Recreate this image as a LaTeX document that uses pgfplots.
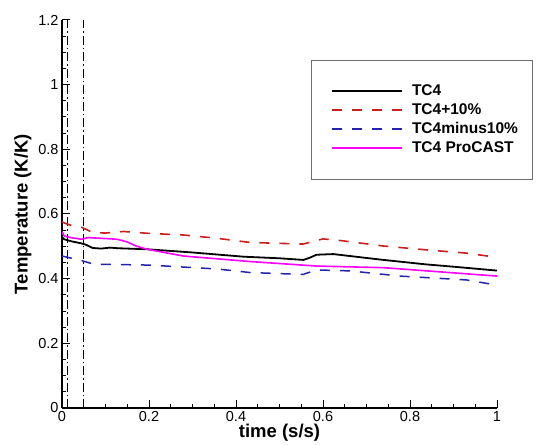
\documentclass[border=0pt]{standalone}
\usepackage{fontspec}
\setmainfont{Liberation Sans}
\usepackage{pgfplots}
\pgfplotsset{compat=1.18}
\definecolor{tcred}{RGB}{205,30,30}
\definecolor{tcblue}{RGB}{35,35,175}
\definecolor{tcmag}{RGB}{255,0,255}
\definecolor{leggray}{RGB}{110,110,110}
\begin{document}
\begin{tikzpicture}[x=1pt,y=1pt]
\path[use as bounding box] (-62,-36) rectangle (475,408);
\begin{axis}[at={(0,0)}, anchor=south west, scale only axis,
  width=435pt, height=388pt,
  xmin=0, xmax=1, ymin=0, ymax=1.2,
  axis x line=bottom, axis y line=left,
  axis line style={-, line width=1.5pt, black},
  xtick={0,0.2,0.4,0.6,0.8,1}, ytick={0,0.2,0.4,0.6,0.8,1,1.2},
  minor x tick num=3, minor y tick num=3,
  tick align=inside, major tick length=8pt, minor tick length=4pt,
  every tick/.style={black, line width=1pt},
  /pgf/number format/assume math mode=true,
  ticklabel style={font=\fontsize{14.5}{16}\selectfont},
  xlabel={\bfseries time (s/s)}, ylabel={\bfseries Temperature (K/K)},
  label style={font=\fontsize{18.5}{20}\selectfont},
  xlabel style={yshift=5pt},
  legend style={at={(249pt,348pt)}, anchor=north west, draw=leggray, fill=white,
     inner xsep=13pt, inner ysep=23pt, row sep=3pt,
     font=\bfseries\fontsize{15.5}{18}\selectfont,
     nodes={text height=11pt, text depth=3pt, inner sep=1pt}},
  legend cell align=left,
  legend image code/.code={\path (0pt,0pt) (85pt,0pt); \draw[#1] (7pt,0pt) -- (77pt,0pt);},
]
\addplot[black, line width=1pt, dash pattern=on 9pt off 3pt on 1.5pt off 3pt, forget plot] coordinates {(0.013,0) (0.013,1.2)};
\addplot[black, line width=1pt, dash pattern=on 9pt off 3pt on 1.5pt off 3pt, forget plot] coordinates {(0.05,0) (0.05,1.2)};
\addplot[black, line width=1.8pt] coordinates {
(0,0.528) (0.005,0.522) (0.02,0.516) (0.045,0.509) (0.055,0.505) (0.07,0.495) (0.09,0.493) (0.11,0.496) (0.13,0.494) (0.195,0.491) (0.3,0.481) (0.417,0.468) (0.5,0.463) (0.555,0.458) (0.57,0.465) (0.585,0.474) (0.624,0.476) (0.7,0.464) (0.739,0.458) (0.838,0.444) (0.9,0.437) (1.0,0.425)};
\addlegendentry{TC4}
\addplot[tcred, line width=1.6pt, dash pattern=on 10pt off 10pt] coordinates {
(0,0.575) (0.02,0.565) (0.045,0.559) (0.07,0.543) (0.1,0.541) (0.141,0.546) (0.2,0.540) (0.28,0.535) (0.356,0.525) (0.432,0.512) (0.554,0.507) (0.600,0.523) (0.646,0.517) (0.739,0.501) (0.838,0.489) (0.93,0.479) (1.0,0.466)};
\addlegendentry{TC4+10\%}
\addplot[tcblue, line width=1.5pt, dash pattern=on 10pt off 10pt] coordinates {
(0,0.47) (0.045,0.456) (0.072,0.445) (0.2,0.442) (0.356,0.430) (0.432,0.419) (0.554,0.413) (0.585,0.427) (0.662,0.424) (0.777,0.408) (0.930,0.396) (1.0,0.380)};
\addlegendentry{TC4minus10\%}
\addplot[tcmag, line width=1.6pt] coordinates {
(0,0.545) (0.005,0.532) (0.02,0.527) (0.045,0.522) (0.06,0.527) (0.126,0.522) (0.149,0.514) (0.17,0.501) (0.195,0.491) (0.279,0.470) (0.432,0.453) (0.585,0.439) (0.739,0.434) (1.0,0.408)};
\addlegendentry{TC4 ProCAST}
\end{axis}
\end{tikzpicture}
\end{document}
